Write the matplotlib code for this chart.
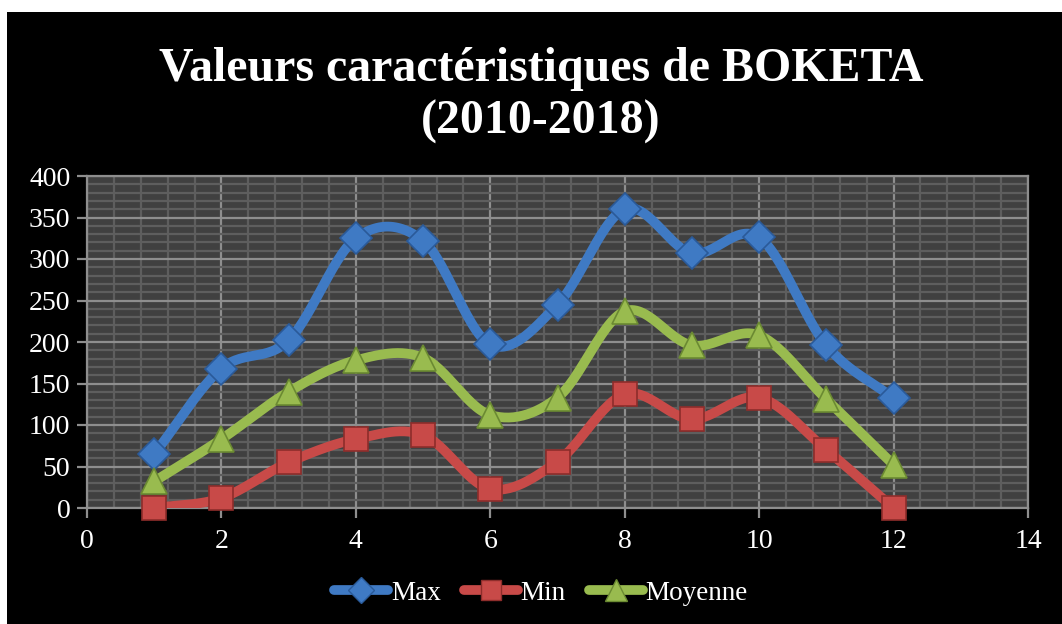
import numpy as np
import matplotlib
matplotlib.use("Agg")
import matplotlib.pyplot as plt
from matplotlib.patches import Rectangle
from matplotlib.ticker import MultipleLocator

# data
mois = [1, 2, 3, 4, 5, 6, 7, 8, 9, 10, 11, 12]
val_max = [65, 168, 202, 325, 322, 197, 245, 360, 307, 326, 196, 132]
val_min = [0, 12, 55, 83, 88, 23, 56, 137, 107, 133, 70, 0]
val_moy = [32, 83, 140, 178, 181, 112, 133, 237, 196, 208, 131, 52]

series = [
    ("Max", val_max, "#3f7ac4", "#2a5a99", "D", 16),
    ("Min", val_min, "#c84a48", "#8e2d2b", "s", 17),
    ("Moyenne", val_moy, "#99bb4f", "#6b8a32", "^", 19),
]


def smooth(x, y, n=30):
    # Catmull-Rom curve through the points (Excel-like smoothed line)
    x = np.asarray(x, float)
    y = np.asarray(y, float)
    px = np.concatenate([[2 * x[0] - x[1]], x, [2 * x[-1] - x[-2]]])
    py = np.concatenate([[2 * y[0] - y[1]], y, [2 * y[-1] - y[-2]]])
    t = np.linspace(0, 1, n)
    xs, ys = [], []
    for i in range(1, len(px) - 2):
        for p, out in ((px, xs), (py, ys)):
            p0, p1, p2, p3 = p[i - 1], p[i], p[i + 1], p[i + 2]
            out.append(0.5 * ((2 * p1) + (-p0 + p2) * t
                              + (2 * p0 - 5 * p1 + 4 * p2 - p3) * t ** 2
                              + (-p0 + 3 * p1 - 3 * p2 + p3) * t ** 3))
    return np.concatenate(xs), np.concatenate(ys)


plt.rcParams["font.family"] = ["Liberation Serif", "DejaVu Serif"]

fig = plt.figure(figsize=(10.62, 6.24), dpi=100, facecolor="white")
fig.patches.append(Rectangle((7 / 1062, 0), 1, 612 / 624, transform=fig.transFigure,
                             facecolor="black", edgecolor="none", zorder=-10))

ax = fig.add_axes([87 / 1062, 1 - 508 / 624, (1028 - 87) / 1062, (508 - 176) / 624])
ax.set_zorder(1)
ax.set_facecolor("#404040")

for name, vals, col, edge, mk, ms in series:
    sx, sy = smooth(mois, vals)
    ax.plot(sx, sy, color=col, lw=7, solid_capstyle="round", zorder=3)
for name, vals, col, edge, mk, ms in series:
    ax.plot(mois, vals, linestyle="none", marker=mk, markersize=ms,
            markerfacecolor=col, markeredgecolor=edge, markeredgewidth=1.2, zorder=4,
            clip_on=False)

# legend handles
for name, vals, col, edge, mk, ms in series:
    ax.plot([], [], color=col, lw=7, solid_capstyle="round", marker=mk,
            markersize=ms * 0.85, markerfacecolor=col, markeredgecolor=edge, label=name)

ax.set_xlim(0, 14)
ax.set_ylim(0, 400)
ax.xaxis.set_major_locator(MultipleLocator(2))
ax.xaxis.set_minor_locator(MultipleLocator(0.4))
ax.yaxis.set_major_locator(MultipleLocator(50))
ax.yaxis.set_minor_locator(MultipleLocator(10))
ax.grid(which="minor", color="#5e5e5e", lw=1.6, zorder=1)
ax.grid(which="major", color="#8e8e8e", lw=1.6, zorder=2)
ax.set_axisbelow(True)

for s in ax.spines.values():
    s.set_color("#8e8e8e")
    s.set_linewidth(1.6)
ax.tick_params(which="major", colors="#8e8e8e", length=7, width=1.6,
               labelcolor="white", labelsize=20)
ax.tick_params(which="minor", length=0)
ax.tick_params(axis="x", pad=8)
ax.tick_params(axis="y", pad=5)

fig.text(541 / 1062, 0.847, "Valeurs caractéristiques de BOKETA\n(2010-2018)",
         ha="center", va="center", color="white", fontsize=34.5, fontweight="bold",
         linespacing=1.25)

h, l = ax.get_legend_handles_labels()
fig.legend(h[-3:], l[-3:], loc="center", bbox_to_anchor=(541 / 1062, 1 - 593 / 624), ncol=3,
           frameon=False, labelcolor="white", fontsize=19.5, handlelength=2.0,
           handletextpad=0.1, columnspacing=0.85)

fig.savefig("out.png", dpi=100, facecolor=fig.get_facecolor())
